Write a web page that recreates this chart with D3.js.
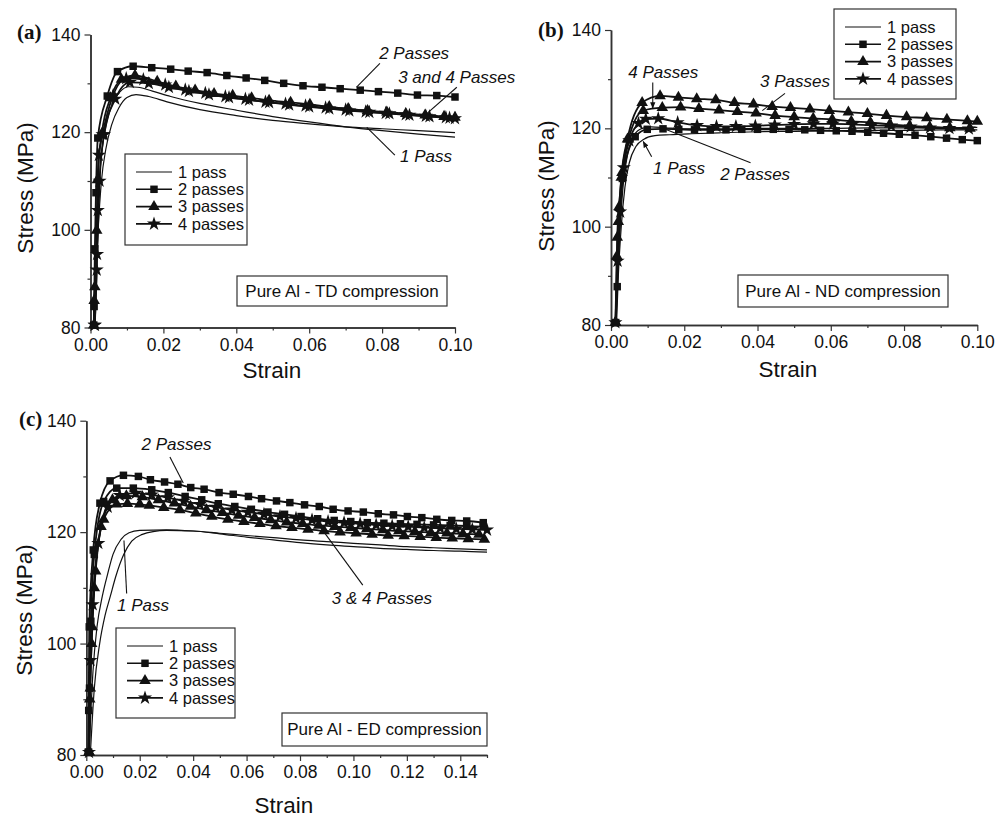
<!DOCTYPE html>
<html>
<head>
<meta charset="utf-8">
<script src="https://cdn.jsdelivr.net/npm/d3@7"></script>
<style>
body { margin: 0; background: #fff; }
svg text { font-family: "Liberation Sans", Arial, sans-serif; fill: #111; }
.tag { font-family: "Liberation Serif", "Times New Roman", serif !important; font-weight: bold; }
.note { font-style: italic; }
</style>
</head>
<body>
<svg id="chart" width="1007" height="818"></svg>
<script>
// curves: [strain, stress (MPa)]
// (a) TD compression
var aPass1a = [[0.0008,80],[0.0012,90],[0.0017,100],[0.0024,110],[0.0033,117],[0.0045,122],[0.006,125.8],[0.008,128.2],[0.0105,129.3],[0.013,129.2],[0.017,128.4],[0.022,127.3],[0.03,125.9],[0.04,124.5],[0.05,123.2],[0.06,122.1],[0.07,121.1],[0.08,120.3],[0.09,119.6],[0.1,119.0]];
var aPass1b = [[0.001,80],[0.0015,90],[0.0021,100],[0.003,110],[0.0042,116.5],[0.0058,121.5],[0.0078,125],[0.01,127.1],[0.0125,127.7],[0.016,127.3],[0.021,126.2],[0.03,124.6],[0.04,123.4],[0.05,122.4],[0.06,121.7],[0.07,121.1],[0.08,120.7],[0.09,120.3],[0.1,119.9]];
var aPass2 = [[0.0009,80.5],[0.001,84.3],[0.0012,96.1],[0.0015,107.6],[0.002,118.8],[0.0046,127.4],[0.0074,132.4],[0.0117,133.5],[0.0168,133.2],[0.022,132.9],[0.0268,132.5],[0.032,132.2],[0.0374,131.6],[0.0427,131.1],[0.0478,130.6],[0.053,130.0],[0.0583,129.5],[0.0635,129.2],[0.0685,128.9],[0.074,128.6],[0.079,128.3],[0.0843,128.0],[0.0897,127.6],[0.095,127.5],[0.1,127.2]];
var aPass3 = [[0.0009,80.5],[0.001,85.5],[0.0012,88.3],[0.0017,99.9],[0.0019,110.2],[0.0031,119.7],[0.0055,127],[0.0085,130.8],[0.0122,131.6],[0.0183,130.4],[0.0234,129.4],[0.0287,128.6],[0.0339,127.9],[0.039,127.5],[0.0442,127.0],[0.049,126.5],[0.0549,126.1],[0.0602,125.7],[0.0655,125.2],[0.0707,124.8],[0.076,124.4],[0.0813,124.1],[0.0865,123.8],[0.0918,123.5],[0.097,123.2],[0.1,123.0]];
var aPass4a = [[0.0011,80.5],[0.0017,91.8],[0.002,104],[0.0023,115.3],[0.0033,119.5],[0.0062,127.5],[0.0098,131],[0.0145,130.8],[0.0205,129.7],[0.026,128.7],[0.0315,128.0],[0.037,127.3],[0.0425,126.8],[0.048,126.2],[0.0535,125.8],[0.059,125.4],[0.0645,125.0],[0.07,124.6],[0.0755,124.2],[0.081,123.9],[0.0865,123.6],[0.092,123.3],[0.0975,123.0],[0.1,122.8]];
var aPass4b = [[0.0012,80.5],[0.0018,95],[0.0025,110],[0.0037,119.5],[0.0068,126.8],[0.0108,130.2],[0.016,130.0],[0.0215,129.2],[0.027,128.4],[0.0325,127.7],[0.038,127.1],[0.0435,126.6],[0.049,126.1],[0.0545,125.6],[0.06,125.2],[0.0655,124.8],[0.071,124.4],[0.0765,124.1],[0.082,123.8],[0.0875,123.5],[0.093,123.2],[0.0985,122.9]];

// (b) ND compression
var bPass1a = [[0.0015,80],[0.002,90],[0.0028,100],[0.0038,108],[0.005,113],[0.0068,116.3],[0.009,117.8],[0.012,118.5],[0.016,118.7],[0.022,118.9],[0.03,119.1],[0.04,119.3],[0.05,119.4],[0.06,119.5],[0.07,119.6],[0.08,119.6],[0.09,119.7],[0.1,119.7]];
var bPass1b = [[0.0013,80],[0.0018,90],[0.0025,100],[0.0034,109],[0.0046,115],[0.0062,118.5],[0.0085,120],[0.011,120.3],[0.015,120.1],[0.02,119.9],[0.03,119.9],[0.04,120],[0.05,120],[0.06,120],[0.07,120.1],[0.08,120.1],[0.09,120.1],[0.1,120.2]];
var bPass2 = [[0.0013,80.5],[0.0017,87.8],[0.0031,109.8],[0.0066,118.3],[0.0099,119.8],[0.0142,119.9],[0.0185,119.8],[0.0228,119.7],[0.0271,119.7],[0.0314,119.7],[0.0357,119.8],[0.04,119.8],[0.0443,119.8],[0.0486,119.8],[0.0529,119.7],[0.0572,119.6],[0.0615,119.5],[0.0658,119.4],[0.0701,119.2],[0.0744,119.0],[0.0787,118.8],[0.083,118.6],[0.0873,118.3],[0.0916,118.0],[0.0959,117.7],[0.1,117.5]];
var bPass3a = [[0.0012,80.5],[0.0016,94],[0.002,101],[0.0028,110],[0.0045,117.8],[0.0085,125.2],[0.0134,126.6],[0.0184,126.3],[0.0234,126.0],[0.0286,125.8],[0.0337,125.2],[0.0389,124.9],[0.044,124.4],[0.049,124.2],[0.0543,123.9],[0.0596,123.6],[0.0648,123.3],[0.07,123.0],[0.0752,122.6],[0.0807,122.3],[0.0862,122.1],[0.0917,121.8],[0.0973,121.5],[0.1,121.4]];
var bPass3b = [[0.0013,80.5],[0.0017,97.8],[0.0022,104],[0.003,111],[0.0048,117.8],[0.0088,123.6],[0.014,124.2],[0.019,124.3],[0.024,124.0],[0.0295,123.7],[0.0345,123.4],[0.0396,123.1],[0.0448,122.6],[0.05,122.3],[0.0552,122.0],[0.0604,121.8],[0.0656,121.4],[0.0708,121.2],[0.0761,120.8],[0.0815,120.5],[0.087,120.3],[0.0925,120.1],[0.098,120.0]];
var bPass4 = [[0.0012,80.5],[0.0018,93],[0.0025,103],[0.0035,112],[0.005,117.5],[0.0075,121],[0.0095,121.9],[0.0129,122.0],[0.0182,121.2],[0.0235,120.6],[0.0288,120.4],[0.0341,120.4],[0.0394,120.5],[0.0447,120.7],[0.05,120.8],[0.0553,120.9],[0.0606,120.9],[0.0659,120.8],[0.0712,120.6],[0.0765,120.5],[0.0818,120.3],[0.0871,120.1],[0.0924,120.0],[0.0977,119.9]];

// (c) ED compression
var cPass1a = [[0.001,80],[0.0025,95],[0.004,103],[0.006,108.5],[0.008,112.5],[0.01,116],[0.013,118.7],[0.016,119.9],[0.02,120.3],[0.03,120.4],[0.04,120.2],[0.05,119.8],[0.06,119.4],[0.07,119],[0.08,118.6],[0.09,118.3],[0.1,118],[0.11,117.7],[0.12,117.4],[0.13,117.2],[0.14,117.0],[0.15,116.8]];
var cPass1b = [[0.0015,80],[0.003,92],[0.005,100],[0.007,105],[0.009,108.5],[0.011,112],[0.014,116],[0.017,118.4],[0.021,119.6],[0.025,120.1],[0.03,120.3],[0.04,120.2],[0.05,119.7],[0.06,119.1],[0.07,118.6],[0.08,118.1],[0.09,117.7],[0.1,117.4],[0.11,117.1],[0.12,116.9],[0.13,116.7],[0.14,116.6],[0.15,116.4]];
var cPass2a = [[0.0007,80.5],[0.0009,88],[0.0011,103],[0.0026,116.8],[0.0051,125.2],[0.0089,129.2],[0.0139,130.2],[0.0195,130.0],[0.024,129.4],[0.0293,129.0],[0.0343,128.6],[0.0391,128.0],[0.0441,127.7],[0.0497,127.1],[0.055,126.8],[0.0607,126.4],[0.0656,126.0],[0.0712,125.6],[0.0762,125.3],[0.0817,124.9],[0.0872,124.6],[0.0924,124.1],[0.098,123.8],[0.1037,123.6],[0.1093,123.3],[0.115,123.1],[0.1202,122.8],[0.1256,122.6],[0.1312,122.3],[0.1368,122.1],[0.1424,122.0],[0.1486,121.7]];
var cPass2b = [[0.0009,80.5],[0.0012,92],[0.0017,104],[0.003,116],[0.0065,125.5],[0.0114,127.9],[0.0176,127.9],[0.0245,127.6],[0.0307,127.1],[0.037,126.4],[0.0432,125.8],[0.0494,125.1],[0.0556,124.6],[0.0618,124.1],[0.068,123.6],[0.0742,123.2],[0.0804,122.8],[0.0866,122.4],[0.0928,122.1],[0.099,121.9],[0.1052,121.7],[0.1114,121.6],[0.1176,121.5],[0.1238,121.4],[0.13,121.3],[0.1362,121.2],[0.1424,121.1],[0.1486,121.0]];
var cPass3a = [[0.001,80.5],[0.0013,90],[0.002,100],[0.003,110],[0.0055,121],[0.0098,125.8],[0.015,126.5],[0.021,126.3],[0.027,125.8],[0.033,125.2],[0.039,124.6],[0.045,124.0],[0.051,123.5],[0.057,123.0],[0.063,122.6],[0.069,122.2],[0.075,121.8],[0.081,121.5],[0.087,121.2],[0.093,121.0],[0.099,120.8],[0.105,120.6],[0.111,120.4],[0.117,120.2],[0.123,120.1],[0.129,119.9],[0.135,119.8],[0.141,119.7],[0.147,119.6]];
var cPass3b = [[0.0011,80.5],[0.0015,92],[0.0022,103],[0.0035,113],[0.0065,122.3],[0.0114,125.0],[0.0154,125.1],[0.02,125.0],[0.0236,124.8],[0.029,124.4],[0.035,124.0],[0.041,123.4],[0.047,122.8],[0.053,122.3],[0.059,121.9],[0.065,121.5],[0.071,121.1],[0.077,120.8],[0.083,120.5],[0.089,120.2],[0.095,120.0],[0.101,119.8],[0.107,119.6],[0.113,119.4],[0.119,119.3],[0.125,119.2],[0.131,119.0],[0.137,118.9],[0.143,118.8],[0.149,118.7]];
var cPass4 = [[0.001,80.5],[0.0016,97],[0.0024,107],[0.0045,118],[0.008,124.5],[0.0125,126.6],[0.0185,127.0],[0.0245,126.7],[0.0305,126.2],[0.0365,125.6],[0.0425,125.0],[0.0485,124.5],[0.0545,124.0],[0.0605,123.6],[0.0665,123.2],[0.0725,122.8],[0.0785,122.5],[0.0845,122.2],[0.0905,121.9],[0.0965,121.7],[0.1025,121.5],[0.1085,121.3],[0.1145,121.1],[0.1205,121.0],[0.1265,120.8],[0.1325,120.7],[0.1385,120.6],[0.1445,120.5],[0.15,120.4]];

// ticks and labels
var yTicks = [80, 100, 120, 140];
var yMinor = [90, 110, 130];
var xTicksA = [0, 0.02, 0.04, 0.06, 0.08, 0.10];
var xMinorA = [0.01, 0.03, 0.05, 0.07, 0.09];
var xTicksC = [0, 0.02, 0.04, 0.06, 0.08, 0.10, 0.12, 0.14];
var xMinorC = [0.01, 0.03, 0.05, 0.07, 0.09, 0.11, 0.13, 0.15];
var legendLabels = ["1 pass", "2 passes", "3 passes", "4 passes"];

var panels = [
  { tag: "(a)", tagX: 17, tagY: 39, xr: [90.5, 455], yr: [327.5, 34.5], xMax: 0.1, xt: xTicksA, xm: xMinorA,
    ylab: [33, 188], xlab: [272, 378],
    curves: [[1, aPass1a], [1, aPass1b], [2, aPass2], [4, aPass4b], [4, aPass4a], [3, aPass3]],
    legend: [125, 154, 122, 91], note: "Pure Al - TD compression", box: [237, 276, 210, 30],
    labels: [
      { t: "2 Passes", x: 0.0792, y: 134.9, p: [[0.0794, 134.1], [0.073, 129.2]] },
      { t: "3 and 4 Passes", x: 0.0844, y: 130.0, p: [[0.1005, 129.2], [0.0918, 123.5]] },
      { t: "1 Pass", x: 0.0849, y: 113.9, p: [[0.0835, 115.3], [0.0758, 121.0]] }
    ] },
  { tag: "(b)", tagX: 538, tagY: 37, xr: [611, 977.3], yr: [325, 30], xMax: 0.1, xt: xTicksA, xm: xMinorA,
    ylab: [554, 186], xlab: [788, 377],
    curves: [[1, bPass1a], [1, bPass1b], [2, bPass2], [4, bPass4], [3, bPass3b], [3, bPass3a]],
    legend: [834, 9, 122, 90], note: "Pure Al - ND compression", box: [738, 275, 210, 32],
    labels: [
      { t: "4 Passes", x: 0.0047, y: 130.2, p: [[0.0114, 129.3], [0.0114, 124.1]], arrow: true },
      { t: "3 Passes", x: 0.0407, y: 128.35, p: [[0.0475, 127.1], [0.0413, 123.6]] },
      { t: "1 Pass", x: 0.0115, y: 110.7, p: [[0.0111, 114.2], [0.0088, 117.3]], arrow: true },
      { t: "2 Passes", x: 0.0298, y: 109.5, p: [[0.0381, 113.0], [0.0152, 119.7]] }
    ] },
  { tag: "(c)", tagX: 19, tagY: 426, xr: [86.3, 487], yr: [755, 420.7], xMax: 0.15, xt: xTicksC, xm: xMinorC,
    ylab: [32, 610], xlab: [284, 813],
    curves: [[1, cPass1a], [1, cPass1b], [3, cPass3b], [3, cPass3a], [4, cPass4], [2, cPass2b], [2, cPass2a]],
    legend: [116, 628, 119, 90], note: "Pure Al - ED compression", box: [282, 713, 205, 33],
    labels: [
      { t: "2 Passes", x: 0.0207, y: 134.7, p: [[0.0313, 133.5], [0.0363, 128.8]] },
      { t: "1 Pass", x: 0.0115, y: 105.9, p: [[0.0151, 109.0], [0.0141, 118.5]] },
      { t: "3 & 4 Passes", x: 0.0919, y: 107.1, p: [[0.1035, 110.5], [0.0875, 121.0]] }
    ] }
];

var symbols = { 2: d3.symbolSquare, 3: d3.symbolTriangle, 4: d3.symbolStar };
var symSize = { 2: 56, 3: 58, 4: 62 };
var ink = "#111";

var svg = d3.select("#chart");

svg.append("defs").append("marker")
    .attr("id", "arr")
    .attr("viewBox", "0 0 10 10")
    .attr("refX", 9).attr("refY", 5)
    .attr("markerWidth", 6).attr("markerHeight", 6)
    .attr("orient", "auto-start-reverse")
  .append("path")
    .attr("d", "M0,1 L10,5 L0,9 z")
    .attr("fill", ink);

panels.forEach(function(p) {
  var x = d3.scaleLinear().domain([0, p.xMax]).range(p.xr);
  var y = d3.scaleLinear().domain([80, 140]).range(p.yr);
  var g = svg.append("g");

  // axes
  var fmt = d3.format(".2f");
  g.append("g").attr("transform", "translate(0," + p.yr[0] + ")")
    .call(d3.axisBottom(x).tickValues(p.xt).tickFormat(fmt).tickSize(6).tickPadding(5).tickSizeOuter(0));
  g.append("g").attr("transform", "translate(0," + p.yr[0] + ")")
    .call(d3.axisBottom(x).tickValues(p.xm).tickFormat("").tickSize(3).tickSizeOuter(0));
  g.append("g").attr("transform", "translate(" + p.xr[0] + ",0)")
    .call(d3.axisLeft(y).tickValues(yTicks).tickSize(6).tickPadding(4).tickSizeOuter(0));
  g.append("g").attr("transform", "translate(" + p.xr[0] + ",0)")
    .call(d3.axisLeft(y).tickValues(yMinor).tickFormat("").tickSize(3).tickSizeOuter(0));
  g.selectAll(".domain").attr("stroke", "#333").attr("stroke-width", 1.5);
  g.selectAll(".tick line").attr("stroke", "#333").attr("stroke-width", 1.2);
  g.selectAll(".tick text").attr("font-size", 17.5).attr("fill", "#111")
    .attr("font-family", "'Liberation Sans', Arial, sans-serif");

  // titles
  g.append("text").attr("x", p.xlab[0]).attr("y", p.xlab[1])
    .attr("text-anchor", "middle").attr("font-size", 22.5).text("Strain");
  g.append("text").attr("transform", "translate(" + p.ylab[0] + "," + p.ylab[1] + ") rotate(-90)")
    .attr("text-anchor", "middle").attr("font-size", 22.5).text("Stress (MPa)");
  g.append("text").attr("class", "tag").attr("x", p.tagX).attr("y", p.tagY)
    .attr("font-size", 21).text(p.tag);

  // curves
  var line = d3.line()
    .x(function(d) { return x(d[0]); })
    .y(function(d) { return y(d[1]); })
    .curve(d3.curveMonotoneX);

  p.curves.forEach(function(c) {
    var pass = c[0], data = c[1];
    g.append("path").datum(data)
      .attr("d", line)
      .attr("fill", "none")
      .attr("stroke", ink)
      .attr("stroke-width", pass == 1 ? 1.2 : 1.8);
    if (pass > 1) {
      var sym = d3.symbol().type(symbols[pass]).size(symSize[pass]);
      g.selectAll(null).data(data).enter().append("path")
        .attr("d", sym)
        .attr("transform", function(d) { return "translate(" + x(d[0]) + "," + y(d[1]) + ")"; })
        .attr("fill", ink);
    }
  });

  // annotations
  p.labels.forEach(function(l) {
    g.append("text").attr("class", "note").attr("x", x(l.x)).attr("y", y(l.y))
      .attr("font-size", 17).text(l.t);
    g.append("line")
      .attr("x1", x(l.p[0][0])).attr("y1", y(l.p[0][1]))
      .attr("x2", x(l.p[1][0])).attr("y2", y(l.p[1][1]))
      .attr("stroke", ink).attr("stroke-width", 1.1)
      .attr("marker-end", l.arrow ? "url(#arr)" : null);
  });

  // legend
  var lg = p.legend;
  g.append("rect").attr("x", lg[0]).attr("y", lg[1]).attr("width", lg[2]).attr("height", lg[3])
    .attr("fill", "#fff").attr("stroke", "#333").attr("stroke-width", 1.2);
  legendLabels.forEach(function(lbl, i) {
    var ry = lg[1] + 18 + i * 17.3;
    g.append("line").attr("x1", lg[0] + 11).attr("x2", lg[0] + 47)
      .attr("y1", ry).attr("y2", ry).attr("stroke", ink).attr("stroke-width", i == 0 ? 1.2 : 1.6);
    if (i > 0) {
      g.append("path").attr("d", d3.symbol().type(symbols[i + 1]).size(symSize[i + 1]))
        .attr("transform", "translate(" + (lg[0] + 29) + "," + ry + ")").attr("fill", ink);
    }
    g.append("text").attr("x", lg[0] + 53).attr("y", ry).attr("dy", "0.35em")
      .attr("font-size", 16.5).text(lbl);
  });

  // sample box
  var b = p.box;
  g.append("rect").attr("x", b[0]).attr("y", b[1]).attr("width", b[2]).attr("height", b[3])
    .attr("fill", "#fff").attr("stroke", "#333").attr("stroke-width", 1.2);
  g.append("text").attr("x", b[0] + b[2] / 2).attr("y", b[1] + b[3] / 2).attr("dy", "0.35em")
    .attr("text-anchor", "middle").attr("font-size", 17).text(p.note);
});
</script>
</body>
</html>
